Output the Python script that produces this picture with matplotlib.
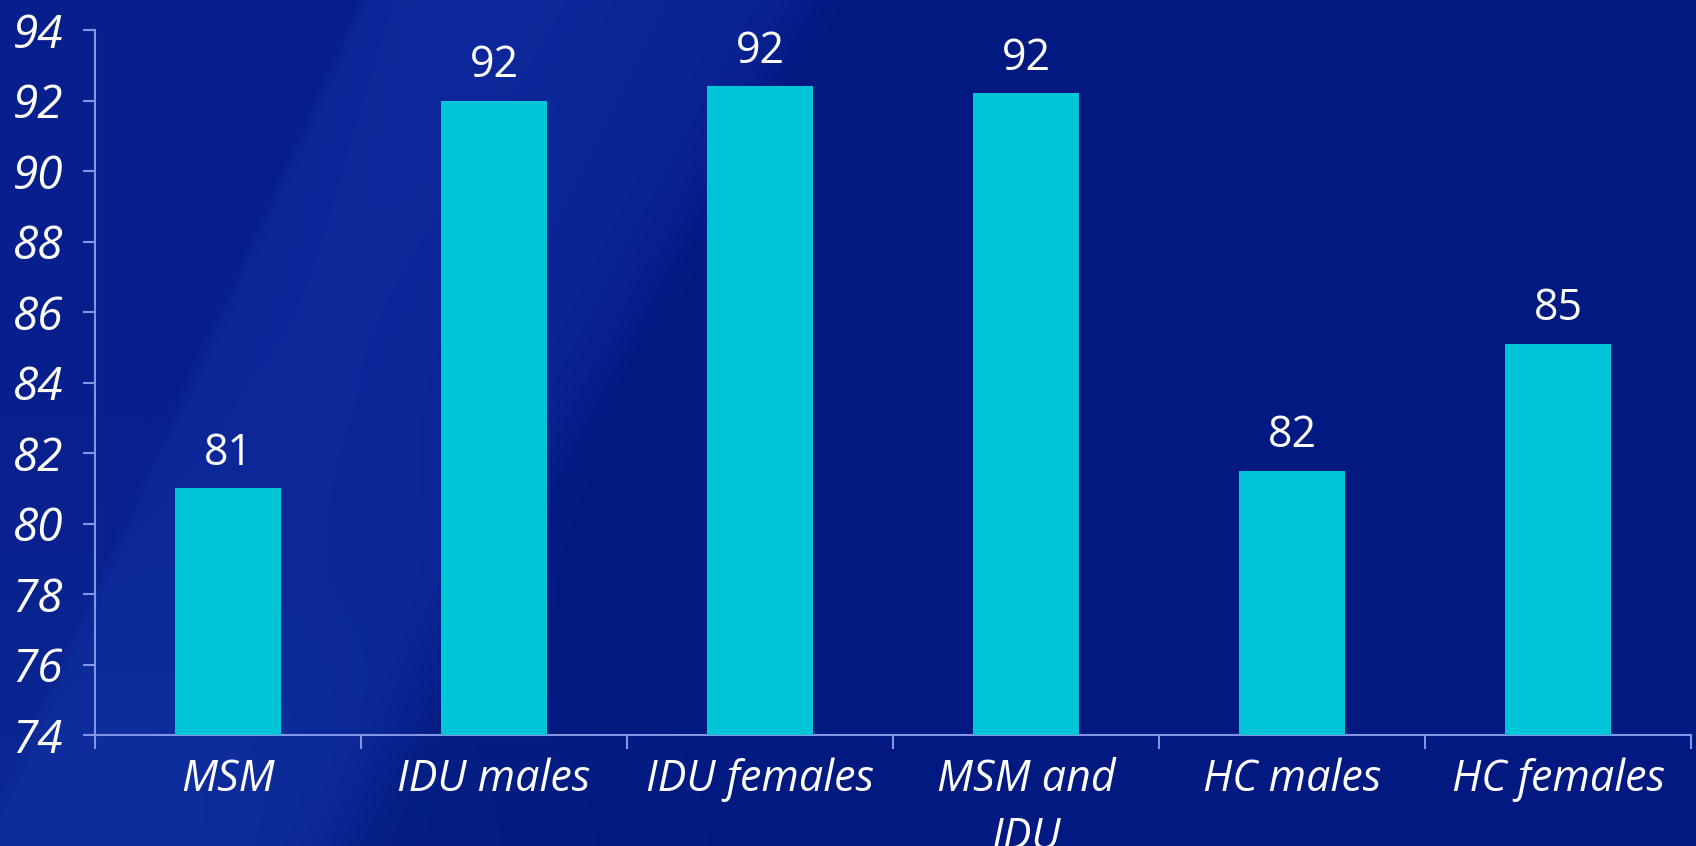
import numpy as np
import matplotlib
matplotlib.use("Agg")
import matplotlib.pyplot as plt
from matplotlib.ticker import FixedLocator, NullFormatter

# Data
categories = ["MSM", "IDU males", "IDU females", "MSM and\nIDU", "HC males", "HC females"]
values = [81.0, 92.0, 92.4, 92.2, 81.5, 85.1]
y_ticks = [74, 76, 78, 80, 82, 84, 86, 88, 90, 92, 94]

BAR = "#00c5d6"
AXIS = "#8595e6"
FONT = "Open Sans"

W_PX, H_PX = 1696, 846
fig = plt.figure(figsize=(W_PX / 100, H_PX / 100), dpi=100)

# Backdrop: deep blue with soft diagonal light bands
bg = fig.add_axes([0, 0, 1, 1], zorder=-10)
h, w = H_PX // 2, W_PX // 2
yy, xx = np.mgrid[0:h, 0:w]
px = xx * 2.0
py = yy * 2.0


def soft_step(v, edge, width):
    return 1.0 / (1.0 + np.exp((v - edge) / width))


dark = np.array([1, 25, 128]) / 255
light = np.array([10, 36, 148]) / 255
img = np.broadcast_to(dark, (h, w, 3)).copy()
# lighter zone on the left, bounded by a slanted edge
zone = soft_step(px + 0.55 * py, 800, 20)[..., None]
img = img * (1 - zone) + light * zone
# faint lift just right of a slanted line
s = px + 0.45 * py
streak = (np.exp(-((s - 480) / 160) ** 2) * (s > 362)) * (1 - py / H_PX * 0.7)
img = img + streak[..., None] * (np.array([2, 4, 6]) / 255)
# slightly deeper tone far left, above the line
far = soft_step(s, 362, 3)[..., None]
img = img - far * (np.array([3, 5, 8]) / 255)
# light haze in the lower-left corner
haze = np.exp(-((px / 600) ** 2 + ((H_PX - py) / 300) ** 2))
img = img + haze[..., None] * (np.array([4, 8, 6]) / 255)
img = np.clip(img, 0, 1)
bg.imshow(img, aspect="auto", extent=[0, 1, 0, 1], origin="upper", interpolation="bilinear")
bg.axis("off")

ax = fig.add_axes([95 / W_PX, 1 - 735 / H_PX, (1691 - 95) / W_PX, (735 - 30) / H_PX])
ax.patch.set_alpha(0)

x = np.arange(len(categories))
bars = ax.bar(x, values, width=0.4, color=BAR, zorder=3)

ax.set_ylim(74, 94)
ax.set_xlim(-0.5, len(categories) - 0.5)

for xi, v in zip(x, values):
    ax.annotate(f"{v:.0f}", (xi, v), xytext=(0, 9), textcoords="offset points",
                ha="center", va="bottom", color="white", fontsize=31, family=FONT)

ax.set_yticks(y_ticks)
ax.set_yticklabels([str(v) for v in y_ticks], fontsize=33, color="white",
                   family=FONT, style="italic")
ax.tick_params(axis="y", direction="out", length=9, width=1.5, color=AXIS, pad=14)

ax.set_xticks(x)
ax.set_xticklabels(categories, fontsize=31, color="white", family=FONT,
                   style="italic", linespacing=1.4)
ax.tick_params(axis="x", which="major", length=0, pad=16)
ax.xaxis.set_minor_locator(FixedLocator(np.arange(-0.5, len(categories), 1.0)))
ax.xaxis.set_minor_formatter(NullFormatter())
ax.tick_params(axis="x", which="minor", direction="out", length=10, width=1.5, color=AXIS)

for side in ("top", "right"):
    ax.spines[side].set_visible(False)
for side in ("left", "bottom"):
    ax.spines[side].set_color(AXIS)
    ax.spines[side].set_linewidth(1.5)

fig.savefig("out.png", dpi=100)
